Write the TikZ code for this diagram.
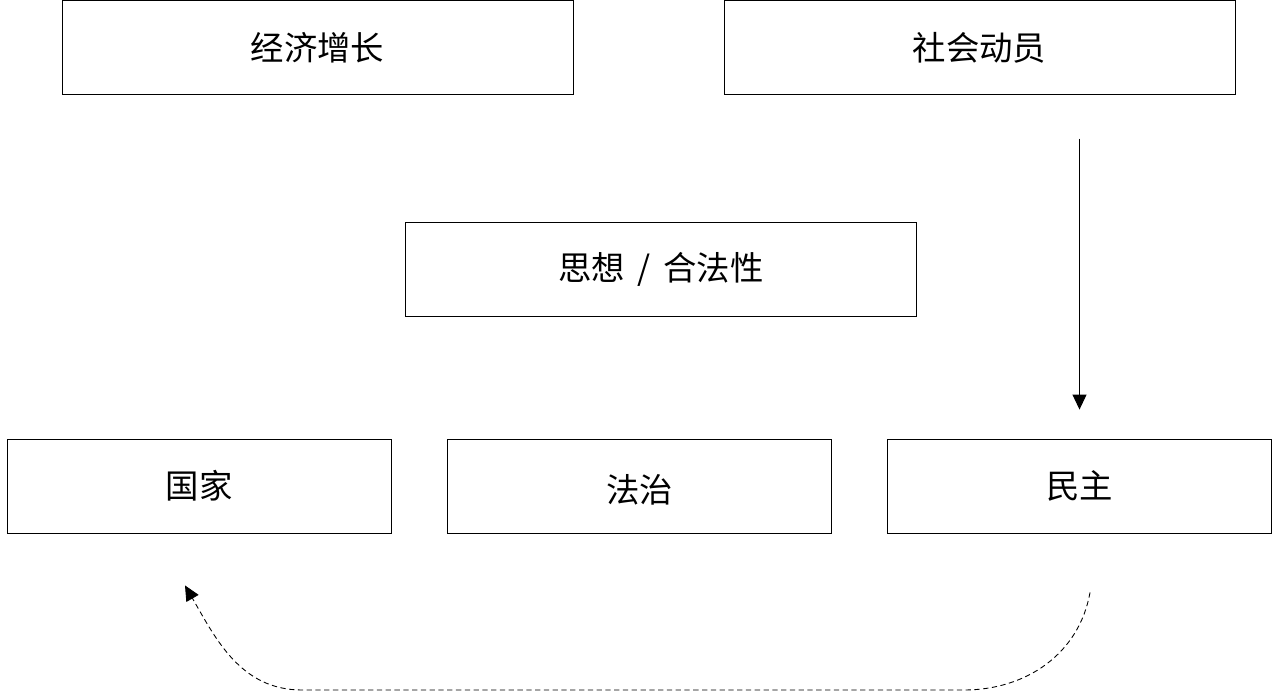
\documentclass[tikz,border=0pt]{standalone}
\usepackage{fontspec}
\setmainfont{Noto Sans CJK SC}
\usetikzlibrary{arrows.meta}
\tikzset{
  box/.style={draw, line width=0.5pt, minimum width=#1, minimum height=1.88cm, inner sep=0pt,
    font=\fontsize{19}{22}\selectfont},
  box/.default=10.22cm
}
\begin{document}
\begin{tikzpicture}[>={Triangle[length=0.3cm,width=0.28cm]}]
    \useasboundingbox (0, 0) rectangle (25.44, -13.92);
    \node [box] (jingji) at (6.35, -0.95) {经济增长};
    \node [box] (shehui) at (19.59, -0.95) {社会动员};
    \node [box] (sixiang) at (13.22, -5.38) {思想\hspace{0.1cm} / \hspace{0.1cm}合法性};
    \node [box=7.68cm] (guojia) at (3.98, -9.72) {国家};
    \node [box=7.68cm] (fazhi) at (12.79, -9.72) {\raisebox{-2.3pt}[\height][\depth]{法治}};
    \node [box=7.68cm] (minzhu) at (21.59, -9.72) {民主};
    % arrow down to democracy
    \coordinate (top) at ([yshift=6cm]minzhu.north);
    \coordinate (tip) at ([yshift=0.58cm]minzhu.north);
    \draw [->, line width=0.6pt] (top) -- (tip);
    % dashed arrow back to the state
    \coordinate (from) at ([shift={(0.21, -1.18)}]minzhu.south);
    \coordinate (r) at (19.28, -13.8);
    \coordinate (l) at (6.04, -13.8);
    \coordinate (to) at ([shift={(-0.28, -1.04)}]guojia.south);
    \draw [->, line width=0.5pt, dash pattern=on 3pt off 2pt]
      (from) to [out=-100, in=0] (r) -- (l) to [out=180, in=-60] (to);
  \end{tikzpicture}
\end{document}
